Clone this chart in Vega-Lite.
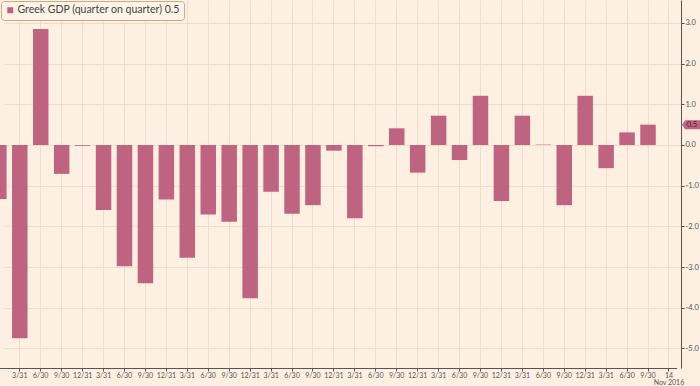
{
  "$schema": "https://vega.github.io/schema/vega-lite/v6.json",
  "width": 681,
  "height": 368,
  "autosize": {"type": "none"},
  "padding": {"left": 0, "top": 0, "right": 19, "bottom": 18},
  "background": "#fdf0e2",
  "config": {
    "view": {"stroke": null},
    "font": "Lato",
    "axis": {"labelFont": "Lato", "labelColor": "#555555", "domainColor": "#555555", "tickColor": "#555555"}
  },
  "datasets": {
    "gdp": [
      {"date": "2008-12-31", "value": -1.33, "series": "Greek GDP (quarter on quarter) 0.5"},
      {"date": "2009-03-31", "value": -4.75, "series": "Greek GDP (quarter on quarter) 0.5"},
      {"date": "2009-06-30", "value": 2.85, "series": "Greek GDP (quarter on quarter) 0.5"},
      {"date": "2009-09-30", "value": -0.71, "series": "Greek GDP (quarter on quarter) 0.5"},
      {"date": "2009-12-31", "value": -0.02, "series": "Greek GDP (quarter on quarter) 0.5"},
      {"date": "2010-03-31", "value": -1.6, "series": "Greek GDP (quarter on quarter) 0.5"},
      {"date": "2010-06-30", "value": -2.98, "series": "Greek GDP (quarter on quarter) 0.5"},
      {"date": "2010-09-30", "value": -3.4, "series": "Greek GDP (quarter on quarter) 0.5"},
      {"date": "2010-12-31", "value": -1.34, "series": "Greek GDP (quarter on quarter) 0.5"},
      {"date": "2011-03-31", "value": -2.77, "series": "Greek GDP (quarter on quarter) 0.5"},
      {"date": "2011-06-30", "value": -1.71, "series": "Greek GDP (quarter on quarter) 0.5"},
      {"date": "2011-09-30", "value": -1.89, "series": "Greek GDP (quarter on quarter) 0.5"},
      {"date": "2011-12-31", "value": -3.77, "series": "Greek GDP (quarter on quarter) 0.5"},
      {"date": "2012-03-31", "value": -1.15, "series": "Greek GDP (quarter on quarter) 0.5"},
      {"date": "2012-06-30", "value": -1.69, "series": "Greek GDP (quarter on quarter) 0.5"},
      {"date": "2012-09-30", "value": -1.48, "series": "Greek GDP (quarter on quarter) 0.5"},
      {"date": "2012-12-31", "value": -0.14, "series": "Greek GDP (quarter on quarter) 0.5"},
      {"date": "2013-03-31", "value": -1.8, "series": "Greek GDP (quarter on quarter) 0.5"},
      {"date": "2013-06-30", "value": -0.03, "series": "Greek GDP (quarter on quarter) 0.5"},
      {"date": "2013-09-30", "value": 0.41, "series": "Greek GDP (quarter on quarter) 0.5"},
      {"date": "2013-12-31", "value": -0.68, "series": "Greek GDP (quarter on quarter) 0.5"},
      {"date": "2014-03-31", "value": 0.72, "series": "Greek GDP (quarter on quarter) 0.5"},
      {"date": "2014-06-30", "value": -0.37, "series": "Greek GDP (quarter on quarter) 0.5"},
      {"date": "2014-09-30", "value": 1.21, "series": "Greek GDP (quarter on quarter) 0.5"},
      {"date": "2014-12-31", "value": -1.38, "series": "Greek GDP (quarter on quarter) 0.5"},
      {"date": "2015-03-31", "value": 0.72, "series": "Greek GDP (quarter on quarter) 0.5"},
      {"date": "2015-06-30", "value": 0.01, "series": "Greek GDP (quarter on quarter) 0.5"},
      {"date": "2015-09-30", "value": -1.48, "series": "Greek GDP (quarter on quarter) 0.5"},
      {"date": "2015-12-31", "value": 1.21, "series": "Greek GDP (quarter on quarter) 0.5"},
      {"date": "2016-03-31", "value": -0.57, "series": "Greek GDP (quarter on quarter) 0.5"},
      {"date": "2016-06-30", "value": 0.31, "series": "Greek GDP (quarter on quarter) 0.5"},
      {"date": "2016-09-30", "value": 0.5, "series": "Greek GDP (quarter on quarter) 0.5"}
    ],
    "last": [
      {"date": "2016-11-14", "value": 0.5}
    ]
  },
  "layer": [
    {
      "data": {"name": "gdp"},
      "mark": {"type": "bar", "clip": true},
      "encoding": {
        "x": {
          "field": "date",
          "type": "ordinal",
          "sort": null,
          "scale": {
            "domain": ["2008-12-31","2009-03-31","2009-06-30","2009-09-30","2009-12-31","2010-03-31","2010-06-30","2010-09-30","2010-12-31","2011-03-31","2011-06-30","2011-09-30","2011-12-31","2012-03-31","2012-06-30","2012-09-30","2012-12-31","2013-03-31","2013-06-30","2013-09-30","2013-12-31","2014-03-31","2014-06-30","2014-09-30","2014-12-31","2015-03-31","2015-06-30","2015-09-30","2015-12-31","2016-03-31","2016-06-30","2016-09-30","2016-11-14"],
            "range": [-8.9, 676.7],
            "paddingInner": 0.26,
            "paddingOuter": 0
          },
          "axis": {
            "title": null,
            "orient": "bottom",
            "grid": true,
            "gridColor": "#efdcc9",
            "gridWidth": 1,
            "tickSize": 3,
            "labelAngle": 0,
            "labelFontSize": 7,
            "labelPadding": 0,
            "labelLineHeight": 7.5,
            "labelOverlap": false,
            "labelExpr": "datum.value == '2016-11-14' ? ['14', 'Nov 2016'] : (datum.value == '2008-12-31' ? '' : toNumber(slice(datum.value, 5, 7)) + '/' + slice(datum.value, 8, 10))"
          }
        },
        "y": {
          "field": "value",
          "type": "quantitative",
          "scale": {"domain": [-5.483, 3.565], "nice": false, "zero": false},
          "axis": {
            "title": null,
            "orient": "right",
            "values": [-5, -4.5, -4, -3.5, -3, -2.5, -2, -1.5, -1, -0.5, 0, 0.5, 1, 1.5, 2, 2.5, 3, 3.5],
            "grid": true,
            "gridColor": "#efdcc9",
            "gridOpacity": {"condition": {"test": "datum.value % 1 !== 0", "value": 0}, "value": 1},
            "tickSize": 3,
            "labelFontSize": 7.5,
            "labelPadding": 1,
            "labelExpr": "datum.value % 1 === 0 ? (datum.value < 0 ? '-' + format(-datum.value, '.1f') : format(datum.value, '.1f')) : ''"
          }
        },
        "color": {
          "field": "series",
          "type": "nominal",
          "scale": {"range": ["#be6481"]},
          "legend": {
            "title": null,
            "orient": "top-left",
            "offset": 1,
            "padding": 4,
            "symbolType": "square",
            "symbolSize": 36,
            "symbolStrokeWidth": 0,
            "labelFont": "Lato",
            "labelFontSize": 10.5,
            "labelLimit": 0,
            "labelColor": "#444444",
            "labelOffset": 2,
            "fillColor": "#fdf3e7",
            "strokeColor": "#c8ab88",
            "cornerRadius": 3
          }
        }
      }
    },
    {
      "data": {"name": "last"},
      "mark": {"type": "point", "shape": "M -1 0 L -0.65 -0.5 L 1 -0.5 L 1 0.5 L -0.65 0.5 Z", "size": 324, "filled": true, "opacity": 1, "color": "#be6481", "xOffset": 22},
      "encoding": {
        "x": {"field": "date", "type": "ordinal"},
        "y": {"field": "value", "type": "quantitative"}
      }
    },
    {
      "data": {"name": "last"},
      "mark": {"type": "text", "fontSize": 7.5, "color": "#4a2232", "xOffset": 23, "align": "center", "baseline": "middle"},
      "encoding": {
        "x": {"field": "date", "type": "ordinal"},
        "y": {"field": "value", "type": "quantitative"},
        "text": {"field": "value", "type": "quantitative", "format": ".1f"}
      }
    }
  ]
}
